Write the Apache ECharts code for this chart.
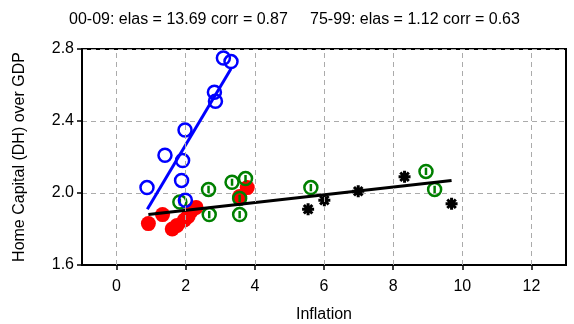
<!DOCTYPE html>
<html>
<head>
<meta charset="utf-8">
<script src="https://cdn.jsdelivr.net/npm/echarts@6/dist/echarts.min.js"></script>
<style>
  html, body { margin: 0; padding: 0; background: #fff; }
  #chart { width: 574px; height: 324px; }
</style>
</head>
<body>
<div id="chart"></div>
<script>
// Tick positions
const xTicks = [0, 2, 4, 6, 8, 10, 12];
const yTicks = [1.6, 2.0, 2.4, 2.8];

// [inflation, home capital / GDP] by period
const years2000s = [[0.88, 2.03], [1.40, 2.21], [1.98, 2.35], [1.91, 2.18], [1.88, 2.07],
                    [1.99, 1.96], [2.83, 2.56], [2.86, 2.51], [3.09, 2.75], [3.31, 2.73]];
const years1990s = [[0.92, 1.83], [1.33, 1.88], [1.61, 1.80], [1.75, 1.82], [1.96, 1.85],
                    [2.07, 1.87], [2.16, 1.90], [2.30, 1.92], [3.56, 1.98], [3.78, 2.03]];
const years1980s = [[1.83, 1.95], [2.66, 2.02], [2.68, 1.88], [3.34, 2.06], [3.73, 2.08],
                    [3.56, 1.97], [3.56, 1.88], [5.62, 2.03], [8.95, 2.12], [9.20, 2.02]];
const years1970s = [[5.54, 1.91], [6.01, 1.96], [6.99, 2.01], [8.33, 2.09], [9.69, 1.94]];

// Fitted lines (endpoints at the period's min / max inflation)
const fit00to09 = [[0.89, 1.91], [3.31, 2.69]];
const fit75to99 = [[0.92, 1.88], [9.69, 2.07]];

// Header texts
const headerLeft = '00-09: elas = 13.69 corr = 0.87';
const headerRight = '75-99: elas = 1.12 corr = 0.63';

const FONT = 'Liberation Sans, Arial, sans-serif';
const GRID_DASH = { type: [5, 4], color: '#ababab', width: 1 };

const ringBar = 'path://M10,0A10,10 0 1 1 10,20A10,10 0 1 1 10,0ZM10,4.5L10,15.5';
const asterisk = 'path://M10,0L10,20M0,10L20,10M2.9,2.9L17.1,17.1M2.9,17.1L17.1,2.9';

const chart = echarts.init(document.getElementById('chart'), null, { renderer: 'canvas' });
chart.setOption({
  animation: false,
  backgroundColor: '#fff',
  title: [
    { text: headerLeft, left: 69, top: 12, padding: 0,
      textStyle: { fontSize: 16, fontWeight: 'normal', color: '#000', fontFamily: FONT } },
    { text: headerRight, left: 310, top: 12, padding: 0,
      textStyle: { fontSize: 16, fontWeight: 'normal', color: '#000', fontFamily: FONT } }
  ],
  grid: { left: 82, right: 8, top: 49, bottom: 59, outerBoundsMode: 'none', containLabel: false,
          show: true, borderColor: '#000', borderWidth: 2 },
  xAxis: {
    type: 'value', min: -1, max: 13,
    name: 'Inflation', nameLocation: 'middle', nameGap: 42,
    nameTextStyle: { fontSize: 16, color: '#000', fontFamily: FONT },
    axisLine: { show: true, onZero: false, lineStyle: { color: '#000', width: 2 } },
    axisTick: { show: true, customValues: xTicks, length: 5, lineStyle: { color: '#000', width: 1.5 } },
    axisLabel: { customValues: xTicks, fontSize: 16, color: '#000', margin: 14, fontFamily: FONT },
    splitLine: { show: false }
  },
  yAxis: {
    type: 'value', min: yTicks[0], max: yTicks[yTicks.length - 1], interval: 0.4,
    name: 'Home Capital (DH) over GDP', nameLocation: 'middle', nameGap: 54,
    nameTextStyle: { fontSize: 16, color: '#000', fontFamily: FONT },
    axisLine: { show: true, onZero: false, lineStyle: { color: '#000', width: 2 } },
    axisTick: { show: true, length: 5, lineStyle: { color: '#000', width: 1.5 } },
    axisLabel: { fontSize: 16, color: '#000', margin: 8, fontFamily: FONT,
                 formatter: v => v.toFixed(1) },
    splitLine: { show: true, lineStyle: GRID_DASH }
  },
  series: [
    { // vertical grid lines at the x ticks
      type: 'line', data: [], z: 1, silent: true,
      markLine: {
        silent: true, symbol: ['none', 'none'], label: { show: false },
        lineStyle: GRID_DASH,
        data: xTicks.map(v => ({ xAxis: v }))
      }
    },
    { name: '1990s', type: 'scatter', data: years1990s, z: 3,
      symbol: 'circle', symbolSize: 15, itemStyle: { color: '#ff0000', opacity: 1 } },
    { name: '1980s', type: 'scatter', data: years1980s, z: 3,
      symbol: ringBar, symbolSize: 13,
      itemStyle: { color: 'transparent', borderColor: '#008000', borderWidth: 2.5, opacity: 1 } },
    { name: '2000s', type: 'scatter', data: years2000s, z: 3,
      symbol: 'circle', symbolSize: 13,
      itemStyle: { color: 'transparent', borderColor: '#0000ff', borderWidth: 2.5, opacity: 1 } },
    { name: '1975-79', type: 'scatter', data: years1970s, z: 3,
      symbol: asterisk, symbolSize: 12,
      itemStyle: { color: 'transparent', borderColor: '#000', borderWidth: 3, opacity: 1 } },
    { name: 'fit 00-09', type: 'line', data: fit00to09, z: 4, symbol: 'none',
      lineStyle: { color: '#0000ff', width: 3 } },
    { name: 'fit 75-99', type: 'line', data: fit75to99, z: 4, symbol: 'none',
      lineStyle: { color: '#000', width: 3 } }
  ]
});
</script>
</body>
</html>
